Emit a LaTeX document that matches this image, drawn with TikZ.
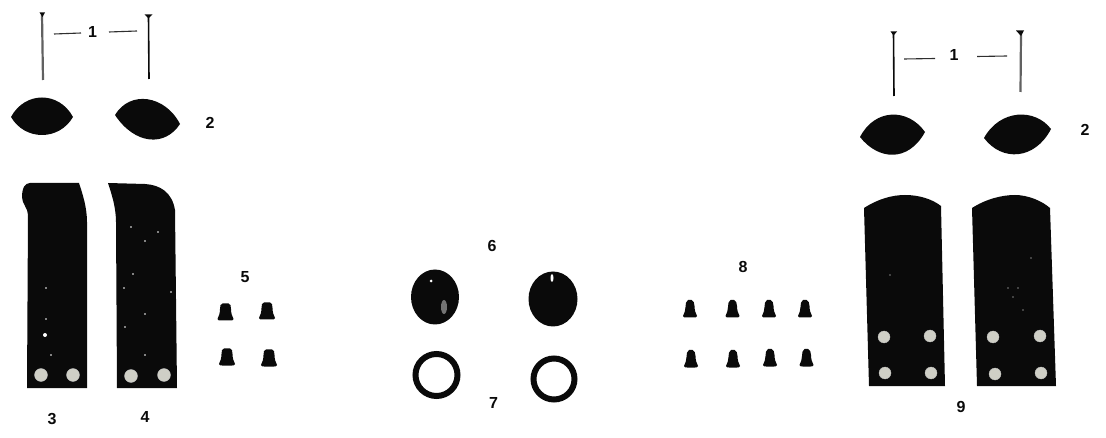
\documentclass[tikz,border=0pt]{standalone}
\usepackage{fontspec}
\setmainfont{Liberation Sans}
\definecolor{ink}{HTML}{0A0A0A}
\definecolor{hole}{HTML}{CFCFC6}
\tikzset{
  x=1pt,y=-1pt,
  lab/.style={font=\bfseries\fontsize{16}{16}\selectfont,text=ink,inner sep=0pt},
  solid part/.style={fill=ink,draw=none},
  nailshaft/.style={draw=ink,line width=1.6pt},
  softnail/.style={draw=black!62,line width=2.2pt},
  leader/.style={draw=ink!85,line width=1.1pt},
  bore/.style={fill=hole,draw=black!25,line width=.3pt},
  speck/.style={fill=white,draw=none},
  loop/.style={draw=ink,line width=6pt,fill=none},
  bell/.pic={\fill[ink] (-3,-8.5) .. controls (-5,-8.5) and (-5.5,-6) .. (-5.5,-3) .. controls (-5.5,1) and (-6.5,4) .. (-8,7) .. controls (-8,8.5) and (-6,8.5) .. (-5,8.5) -- (5,8.5) .. controls (6,8.5) and (8,8.5) .. (8,7) .. controls (6.5,4) and (5.5,1) .. (5.5,-3) .. controls (5.5,-6) and (5,-8.5) .. (3,-8.5) -- cycle;},
  tinyscrew/.pic={\fill[ink] (-2,-9) .. controls (-4,-8) and (-4.5,-5) .. (-4.5,-2) .. controls (-4.5,1) and (-5.5,4) .. (-7,7) .. controls (-7,8.5) and (-5,8.5) .. (-4,8.5) -- (4,8.5) .. controls (5,8.5) and (7,8.5) .. (7,7) .. controls (5.5,4) and (4.5,1) .. (4.5,-3) .. controls (4.5,-6) and (3.5,-8) .. (1.5,-9) -- cycle;}
}
\begin{document}
\begin{tikzpicture}
\useasboundingbox (0,0) rectangle (1106,438);
% --- left nails
\coordinate (nA) at (42,14); \coordinate (nAe) at (43,80);
\coordinate (nB) at (148.5,16); \coordinate (nBe) at (149,79);
\draw[softnail] (nA) -- (nAe);
\draw[nailshaft] (nB) -- (nBe);
\fill[ink] (39.5,12.5) -- (45,12.5) -- (42.5,17) -- cycle;
\fill[ink] (144.5,14.5) -- (152.5,14.5) -- (148.5,18.5) -- cycle;
\node[lab] (one) at (92.5,32) {1};
\coordinate (dA1) at (54,34); \coordinate (dA2) at (81,33);
\coordinate (dB1) at (109,32); \coordinate (dB2) at (137,31);
\draw[leader] (dA1) -- (dA2);
\draw[leader] (dB1) -- (dB2);
% --- left leaves
\fill[solid part] (11,117) .. controls (25,91) and (59,91) .. (73,117) .. controls (59,141) and (25,141) .. (11,117) -- cycle;
\fill[solid part] (115,115) .. controls (130,90) and (165,95) .. (180,124) .. controls (165,147) and (135,145) .. (115,115) -- cycle;
\node[lab] (two) at (210,123) {2};
% --- plates 3 and 4
\fill[solid part] (30,183) -- (79,183) .. controls (83,195) and (87,208) .. (87,222) -- (87,388) -- (27,388) -- (28,215) .. controls (28,208) and (22,204) .. (22,197) .. controls (22,188) and (25,183) .. (30,183) -- cycle;
\fill[solid part] (108,183) -- (145,184) .. controls (160,185) and (172,192) .. (175,210) -- (177,388) -- (117,388) -- (116,222) .. controls (116,208) and (112,195) .. (108,183) -- cycle;
\foreach \p in {(41,375),(73,375),(131,376),(164,375)} \fill[bore] \p circle (6.5);
\fill[speck] (45,335) circle (2);
\foreach \p in {(46,288),(46,319),(51,355),(131,227),(133,274),(125,327),(145,314),(145,355),(171,292),(158,232),(145,241),(124,288)} \fill[speck] \p circle (.8);
\node[lab] (three) at (52,419) {3};
\node[lab] (four) at (145,417) {4};
% --- screws 5
\node[lab] (five) at (245,277) {5};
\foreach \p in {(225.5,312),(267,311),(227,357),(269,358)} \path \p pic {bell};
% --- 6 and 7
\node[lab] (six) at (492,246) {6};
\fill[solid part] (435,297) ellipse [x radius=24,y radius=27.5];
\fill[solid part] (553,299) ellipse [x radius=24.5,y radius=27.5];
\fill[speck] (431,281) circle (1.5);
\fill[black!55] (444,307) ellipse [x radius=3,y radius=7];
\fill[speck] (552,278) ellipse [x radius=1.5,y radius=4];
\draw[loop] (436.5,375) circle (21);
\draw[loop] (554,379) circle (20.5);
\node[lab] (seven) at (493.5,403) {7};
% --- screws 8
\node[lab] (eight) at (743,267) {8};
\foreach \p in {(690,309),(732.5,309),(769,309),(805,309),(691,359),(733,359),(770,358),(806.5,358)} \path \p pic {tinyscrew};
% --- right nails
\coordinate (nC) at (893.5,33); \coordinate (nCe) at (894,96);
\coordinate (nD) at (1021,33); \coordinate (nDe) at (1020.5,92);
\draw[nailshaft] (nC) -- (nCe);
\draw[softnail] (nD) -- (nDe);
\fill[ink] (890.5,31.5) -- (897,31.5) -- (893.5,35.5) -- cycle;
\fill[ink] (1016,30.5) -- (1024,30.5) -- (1021,36) -- cycle;
\node[lab] (oneb) at (954,55) {1};
\coordinate (dC1) at (904,59); \coordinate (dC2) at (935,58.5);
\coordinate (dD1) at (977,56.5); \coordinate (dD2) at (1007,56);
\draw[leader] (dC1) -- (dC2);
\draw[leader] (dD1) -- (dD2);
% --- right leaves
\fill[solid part] (860,137) .. controls (875,108) and (908,108) .. (925,132) .. controls (908,163) and (878,160) .. (860,137) -- cycle;
\fill[solid part] (984,138) .. controls (1000,109) and (1035,108) .. (1051,129) .. controls (1035,160) and (1002,162) .. (984,138) -- cycle;
\node[lab] (twob) at (1085,130) {2};
% --- plates 9
\fill[solid part] (864,208) .. controls (878,199) and (892,195) .. (905,195) .. controls (919,195) and (932,199) .. (941,206) -- (945,386) -- (869,386) -- cycle;
\fill[solid part] (972,208) .. controls (986,199) and (1002,195) .. (1015,195) .. controls (1028,195) and (1042,201) .. (1050,208) -- (1056,386) -- (977,386) -- cycle;
\foreach \p in {(884,337),(930,336),(885,373),(931,373),(993,337),(1040,336),(995,374),(1041,373)} \fill[bore] \p circle (6);
\foreach \p in {(890,275),(1013,297),(1008,288),(1018,288),(1031,258),(1023,310)} \fill[speck] \p circle (.7);
\node[lab] (nine) at (961,407) {9};
\end{tikzpicture}
\end{document}
